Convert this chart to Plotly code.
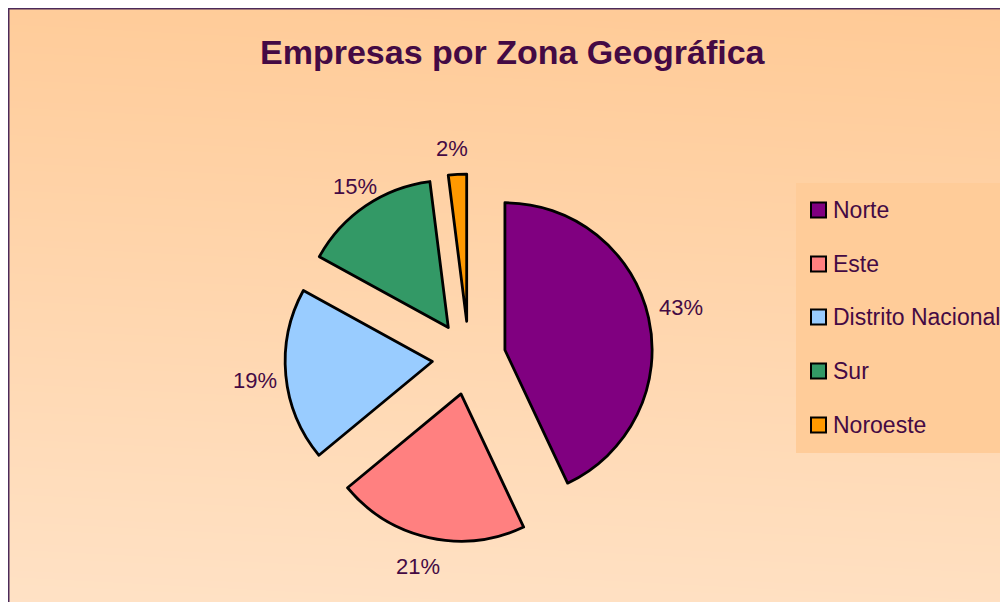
import plotly.graph_objects as go

# ---- data ----
labels = ["Norte", "Este", "Distrito Nacional", "Sur", "Noroeste"]
values = [43, 21, 19, 15, 2]
colors = ["#800080", "#FF8080", "#99CCFF", "#339966", "#FF9900"]
title_text = "Empresas por Zona Geográfica"

# ---- layout constants ----
W, H = 1016, 610
OFF = 8  # page offset of the figure (body margin)
TXT = "#440A44"
FONT = "Liberation Sans, Arial, sans-serif"

def px_x(x):
    return (x - OFF) / W

def px_y(y):
    return (H - (y - OFF)) / H

fig = go.Figure()

# gradient background via smoothed heatmap on hidden axes
fig.add_trace(go.Heatmap(
    x=[0, 1], y=[0, 1], z=[[0.0, 0.08], [0.92, 1.0]],
    zsmooth="best", showscale=False, hoverinfo="skip",
    colorscale=[[0, "#FFE2C6"], [1, "#FFCA96"]], zmin=0, zmax=1,
))

# pie
pc_x, pc_y, half = 469, 358, 184
fig.add_trace(go.Pie(
    labels=labels, values=values, sort=False, direction="clockwise", rotation=0,
    marker=dict(colors=colors, line=dict(color="#000000", width=2.8)),
    pull=[0.25] * len(values), textinfo="none", showlegend=False, hoverinfo="label+percent",
    domain=dict(x=[px_x(pc_x - half), px_x(pc_x + half)],
                y=[px_y(pc_y + half), px_y(pc_y - half)]),
))

shapes = []
annotations = []

# border
shapes.append(dict(type="rect", xref="paper", yref="paper",
                   x0=0, x1=1.05, y0=-0.05, y1=1,
                   line=dict(color="#4B2A5A", width=3), fillcolor="rgba(0,0,0,0)", layer="above"))

# legend box
shapes.append(dict(type="rect", xref="paper", yref="paper",
                   x0=px_x(796), x1=1.02, y0=px_y(453), y1=px_y(183),
                   line=dict(width=0), fillcolor="#FFCC99", layer="above"))
leg_y = [210, 264, 317, 371, 425]
for lab, col, yy in zip(labels, colors, leg_y):
    shapes.append(dict(type="rect", xref="paper", yref="paper",
                       x0=px_x(811), x1=px_x(826), y0=px_y(yy + 7.5), y1=px_y(yy - 7.5),
                       line=dict(color="#000000", width=2), fillcolor=col, layer="above"))
    annotations.append(dict(text=lab, xref="paper", yref="paper", x=px_x(831), y=px_y(yy),
                            xanchor="left", yanchor="middle", showarrow=False,
                            font=dict(family=FONT, size=23, color=TXT)))

# percent labels
label_pos = [(681, 307), (418, 566), (255, 380), (355, 186), (452, 148)]
total = sum(values)
for v, (lx, ly) in zip(values, label_pos):
    annotations.append(dict(text=f"{round(100 * v / total)}%", xref="paper", yref="paper",
                            x=px_x(lx), y=px_y(ly), xanchor="center", yanchor="middle",
                            showarrow=False, font=dict(family=FONT, size=22, color=TXT)))

# title
annotations.append(dict(text=f"<b>{title_text}</b>", xref="paper", yref="paper",
                        x=px_x(513), y=px_y(52), xanchor="center", yanchor="middle",
                        showarrow=False, font=dict(family=FONT, size=34, color=TXT)))

fig.update_layout(
    width=W, height=H, margin=dict(l=0, r=0, t=0, b=0),
    paper_bgcolor="#FFFFFF", plot_bgcolor="rgba(0,0,0,0)",
    xaxis=dict(domain=[0, 1], range=[0, 1], visible=False, fixedrange=True),
    yaxis=dict(domain=[0, 1], range=[0, 1], visible=False, fixedrange=True),
    shapes=shapes, annotations=annotations, showlegend=False,
)

fig.write_html("out.html",
               post_script="document.documentElement.style.overflow='hidden';"
                           "document.body.style.overflow='hidden';")
